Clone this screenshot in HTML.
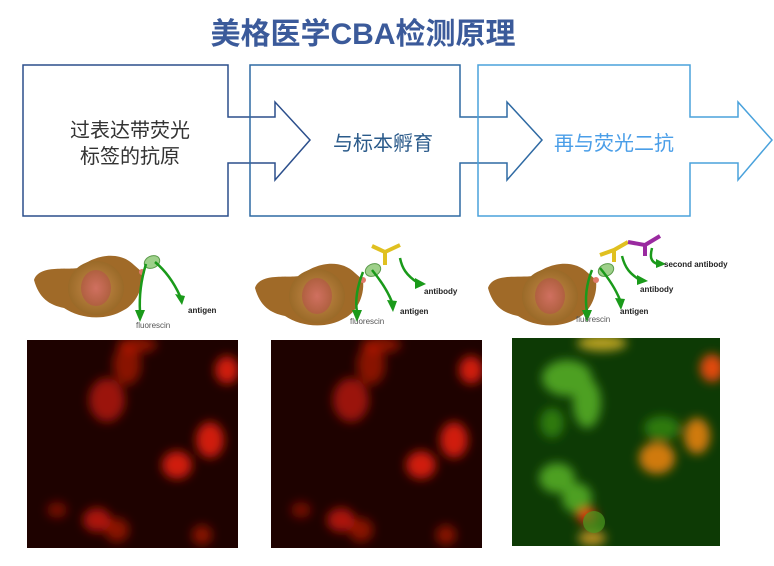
<!DOCTYPE html>
<html><head><meta charset="utf-8"><style>
body{margin:0;width:774px;height:561px;background:#fff;overflow:hidden;font-family:"Liberation Sans","Noto Sans CJK SC",sans-serif;}
</style></head><body>
<svg width="774" height="561" viewBox="0 0 774 561" xmlns="http://www.w3.org/2000/svg">
<defs>
<filter id="b5" x="-50%" y="-50%" width="200%" height="200%"><feGaussianBlur stdDeviation="5"/></filter>
<clipPath id="c1"><rect width="211" height="208"/></clipPath>
<clipPath id="c3"><rect width="208" height="208"/></clipPath>
<radialGradient id="cellg" cx="0.5" cy="0.5" r="0.5"><stop offset="0" stop-color="#c88a4a"/><stop offset="1" stop-color="#9a6a28"/></radialGradient>
<radialGradient id="nuc" cx="0.5" cy="0.5" r="0.5"><stop offset="0" stop-color="#d07060"/><stop offset="1" stop-color="#b06040"/></radialGradient>
<g id="cell">
<path d="M0,30 C5,15 30,20 45,18 C60,5 85,0 100,15 L108,22 C110,40 100,55 90,60 C70,72 45,68 30,58 C15,55 5,48 0,30 Z" fill="#a06a28"/>
<ellipse cx="62" cy="38" rx="28" ry="27" fill="url(#cellg)"/>
<ellipse cx="62" cy="38" rx="15" ry="18" fill="url(#nuc)"/>
<circle cx="108" cy="22" r="3" fill="#e07a6a"/>
<ellipse cx="118" cy="12" rx="8" ry="6" fill="#9ed08a" stroke="#5a9a4a" transform="rotate(-25 118 12)"/>
</g>
<g id="flr" clip-path="url(#c1)">
<rect width="211" height="208" fill="#1e0200"/>
<g filter="url(#b5)" fill="#d01a0a">
<ellipse cx="80" cy="60" rx="18" ry="22" opacity="0.7"/>
<ellipse cx="100" cy="25" rx="14" ry="20" opacity="0.6"/>
<ellipse cx="183" cy="100" rx="14" ry="18"/>
<ellipse cx="150" cy="125" rx="15" ry="14"/>
<ellipse cx="70" cy="180" rx="14" ry="12" opacity="0.8"/>
<ellipse cx="90" cy="190" rx="12" ry="12" opacity="0.6"/>
<ellipse cx="200" cy="30" rx="12" ry="14"/>
<ellipse cx="30" cy="170" rx="10" ry="8" opacity="0.5"/>
<ellipse cx="110" cy="5" rx="20" ry="8" opacity="0.6"/>
<ellipse cx="175" cy="195" rx="10" ry="10" opacity="0.6"/>
</g>
</g>
</defs>
<text x="363" y="44" text-anchor="middle" font-size="30" font-weight="bold" fill="#3b5a9a" font-family="Liberation Sans,Noto Sans CJK SC,sans-serif">美格医学CBA检测原理</text>
<path d="M23,65 H228 V117 H275 V102 L310,140 L275,180 V163 H228 V216 H23 Z" fill="none" stroke="#2c4f8c" stroke-width="1.5"/>
<path d="M250,65 H460 V117 H507 V102 L542,140 L507,180 V163 H460 V216 H250 Z" fill="none" stroke="#2f6aa3" stroke-width="1.5"/>
<path d="M478,65 H690 V117 H738 V102 L772,140 L738,180 V163 H690 V216 H478 Z" fill="none" stroke="#4aa2dc" stroke-width="1.5"/>
<g font-size="20" text-anchor="middle" font-family="Liberation Sans,Noto Sans CJK SC,sans-serif">
<text x="130" y="137" fill="#333">过表达带荧光</text>
<text x="130" y="163" fill="#333">标签的抗原</text>
<text x="383" y="150" fill="#2a5a8a">与标本孵育</text>
<text x="614" y="150" fill="#4a9ee8">再与荧光二抗</text>
</g>
<use href="#cell" x="34" y="250"/>
<use href="#cell" x="255" y="258"/>
<use href="#cell" x="488" y="258"/>
<g stroke="#e0c020" stroke-width="4" fill="none"><path d="M385,265 L385,252 L372,246 M385,252 L400,245"/><path d="M614,262 L614,250 L600,255 M614,250 L628,242"/></g>
<g stroke="#9a2aa0" stroke-width="4" fill="none"><path d="M645,256 L645,245 L628,242 M645,245 L660,236"/></g>
<g stroke="#1a9a1a" stroke-width="2.5" fill="none">
<path d="M146,264 C141,280 139,295 140,312"/><path d="M155,262 C167,272 175,285 180,296"/>
<path d="M363,272 C357,287 355,300 357,312"/><path d="M372,270 C382,282 388,292 392,302"/><path d="M400,258 C402,268 406,275 418,283"/>
<path d="M592,270 C586,285 585,300 587,312"/><path d="M600,268 C610,280 616,290 620,300"/><path d="M622,256 C625,268 630,274 640,280"/><path d="M652,248 C650,256 650,262 658,264"/>
</g>
<g fill="#1a9a1a">
<path d="M135,310 L145,310 L140,322Z"/><path d="M175,294 L185,296 L182,305Z"/>
<path d="M352,310 L362,310 L357,322Z"/><path d="M387,300 L397,301 L393,312Z"/><path d="M415,278 L426,284 L415,289Z"/>
<path d="M582,310 L592,310 L587,322Z"/><path d="M615,298 L625,299 L621,310Z"/><path d="M637,275 L648,281 L637,285Z"/><path d="M656,259 L666,264 L656,268Z"/>
</g>
<g font-size="8" font-weight="bold" fill="#222" font-family="Liberation Sans,sans-serif">
<text x="136" y="328" font-weight="normal" fill="#555">fluorescin</text><text x="188" y="313">antigen</text>
<text x="350" y="324" font-weight="normal" fill="#555">fluorescin</text><text x="400" y="314">antigen</text><text x="424" y="294">antibody</text>
<text x="576" y="322" font-weight="normal" fill="#555">fluorescin</text><text x="620" y="314">antigen</text><text x="640" y="292">antibody</text><text x="664" y="267">second antibody</text>
</g>
<use href="#flr" x="27" y="340"/>
<use href="#flr" x="271" y="340"/>
<g transform="translate(512,338)" clip-path="url(#c3)">
<rect width="208" height="208" fill="#0d3a05"/>
<g filter="url(#b5)">
<ellipse cx="55" cy="40" rx="25" ry="18" fill="#4ea020"/>
<ellipse cx="75" cy="65" rx="14" ry="25" fill="#4ea020"/>
<ellipse cx="40" cy="85" rx="12" ry="15" fill="#2e7a10"/>
<ellipse cx="45" cy="140" rx="18" ry="15" fill="#4ea020"/>
<ellipse cx="65" cy="160" rx="15" ry="15" fill="#4ea020"/>
<ellipse cx="145" cy="120" rx="18" ry="16" fill="#d07a10"/>
<ellipse cx="185" cy="98" rx="13" ry="18" fill="#d07a10"/>
<ellipse cx="200" cy="30" rx="12" ry="14" fill="#e04a10"/>
<ellipse cx="75" cy="178" rx="10" ry="8" fill="#e02a10"/>
<ellipse cx="90" cy="5" rx="25" ry="8" fill="#b8a020"/>
<ellipse cx="80" cy="200" rx="14" ry="8" fill="#b08a20"/>
<ellipse cx="150" cy="90" rx="18" ry="12" fill="#2e7a10"/>
</g>
<circle cx="82" cy="184" r="11" fill="#4a9a20" opacity="0.7"/>
</g>
</svg>
</body></html>
